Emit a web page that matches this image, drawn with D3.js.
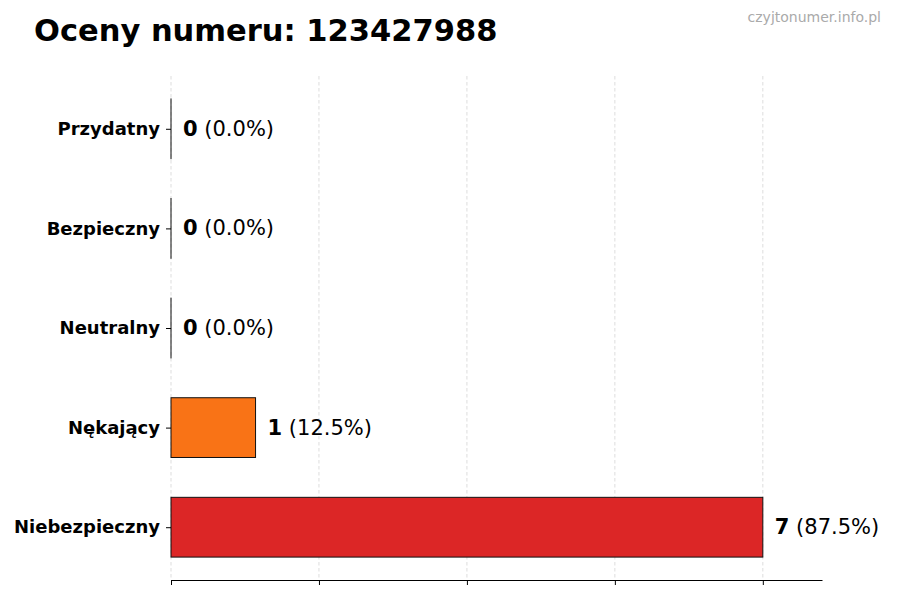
<!DOCTYPE html>
<html>
<head>
<meta charset="utf-8">
<script src="https://cdn.jsdelivr.net/npm/d3@7"></script>
<style>
  body { margin: 0; background: white; }
  svg { font-family: "DejaVu Sans", sans-serif; }
</style>
</head>
<body>
<div id="chart"></div>
<script>
// dane z wykresu
const categories = ["Przydatny", "Bezpieczny", "Neutralny", "Nękający", "Niebezpieczny"];
const counts = [0, 0, 0, 1, 7];
const percents = ["0.0%", "0.0%", "0.0%", "12.5%", "87.5%"];
const barColors = ["#22c55e", "#84cc16", "#9ca3af", "#f97316", "#dc2626"];
const xTicks = [0, 1.75, 3.5, 5.25, 7];

const width = 900, height = 600;
const margin = {top: 76, right: 78, bottom: 20, left: 171};

const svg = d3.select("#chart").append("svg")
  .attr("width", width)
  .attr("height", height);

const x = d3.scaleLinear()
  .domain([0, 7.7])
  .range([margin.left, width - margin.right]);

// zakres y jak w matplotlib: -0.53 .. 4.53
const y = d3.scaleLinear()
  .domain([-0.53, 4.53])
  .range([margin.top, height - margin.bottom]);

const barH = y(0.6) - y(0);

// siatka
svg.append("g")
  .selectAll("line")
  .data(xTicks)
  .enter()
    .append("line")
    .attr("x1", d => x(d)).attr("x2", d => x(d))
    .attr("y1", margin.top).attr("y2", height - margin.bottom)
    .attr("stroke", "#d4d4d4")
    .attr("stroke-width", 0.8)
    .attr("stroke-dasharray", "3.5,2.5");

// słupki
svg.append("g")
  .selectAll("rect")
  .data(counts)
  .enter()
    .append("rect")
    .attr("x", x(0))
    .attr("y", (d, i) => y(i) - barH / 2)
    .attr("width", d => Math.max(x(d) - x(0), 0.01))
    .attr("height", barH)
    .attr("fill", (d, i) => barColors[i])
    .attr("stroke", "#111")
    .attr("stroke-width", 1);

// oś x
const xAxis = d3.axisBottom(x)
  .tickValues(xTicks)
  .tickFormat("")
  .tickSize(5)
  .tickSizeOuter(0);

const gx = svg.append("g")
  .attr("transform", `translate(0,${height - margin.bottom})`)
  .call(xAxis);
gx.select(".domain").attr("stroke", "#000").attr("stroke-width", 1);
gx.selectAll(".tick line").attr("stroke", "#000");

// oś y (tylko etykiety i kreski)
const yAxis = d3.axisLeft(y)
  .tickValues(d3.range(categories.length))
  .tickFormat(i => categories[i])
  .tickSize(5)
  .tickPadding(6);

const gy = svg.append("g")
  .attr("transform", `translate(${margin.left},0)`)
  .call(yAxis);
gy.select(".domain").remove();
gy.selectAll(".tick line").attr("stroke", "#000");
gy.selectAll(".tick text")
  .attr("fill", "#000")
  .attr("font-size", 18)
  .attr("font-weight", "bold")
  .attr("font-family", "DejaVu Sans");

// etykiety wartości
const lab = svg.append("g")
  .selectAll("text")
  .data(counts)
  .enter()
    .append("text")
    .attr("x", d => x(d) + 12)
    .attr("y", (d, i) => y(i))
    .attr("dominant-baseline", "central")
    .attr("font-size", 21)
    .attr("fill", "#000");

lab.append("tspan")
  .attr("font-weight", "bold")
  .text(d => d);
lab.append("tspan")
  .text((d, i) => ` (${percents[i]})`);

// tytuł
svg.append("text")
  .attr("x", 34)
  .attr("y", 41)
  .attr("font-size", 30.5)
  .attr("font-weight", "bold")
  .attr("fill", "#000")
  .text("Oceny numeru: 123427988");

svg.append("text")
  .attr("x", 881)
  .attr("y", 22)
  .attr("text-anchor", "end")
  .attr("font-size", 14)
  .attr("fill", "#aaaaaa")
  .text("czyjtonumer.info.pl");
</script>
</body>
</html>
